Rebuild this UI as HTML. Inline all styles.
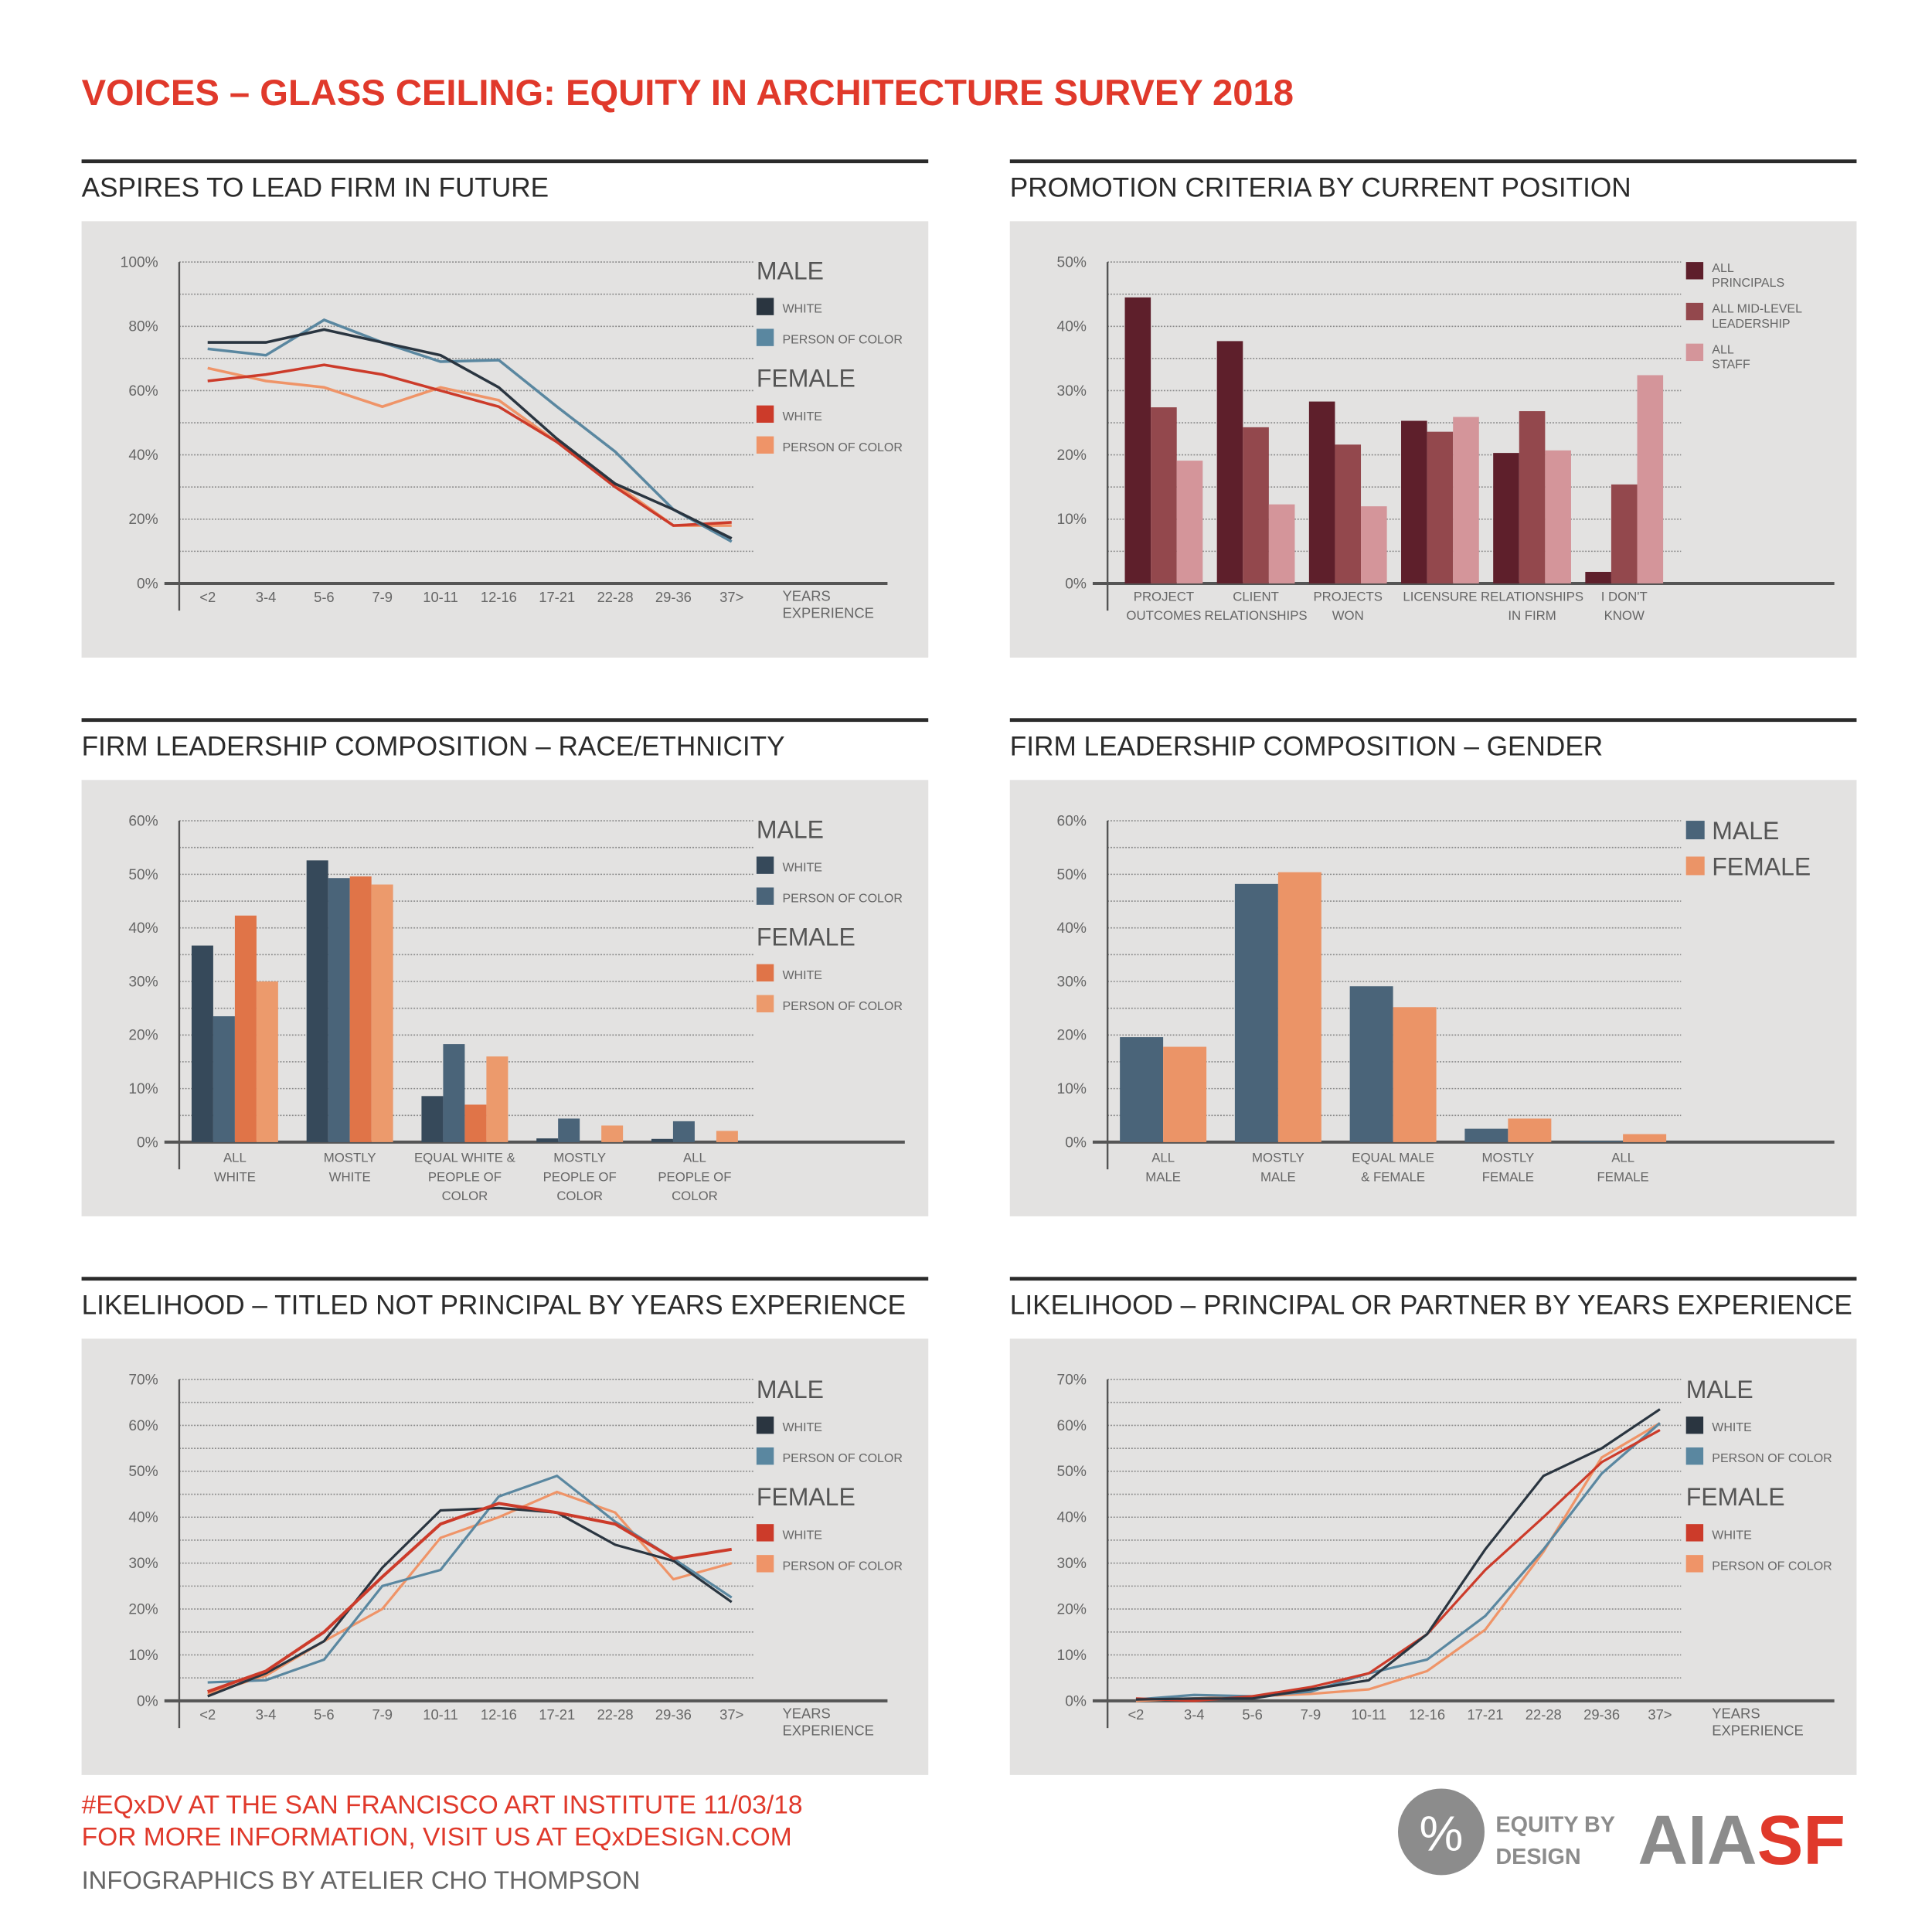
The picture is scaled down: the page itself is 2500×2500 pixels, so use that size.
<!DOCTYPE html>
<html><head><meta charset="utf-8">
<style>
html,body{margin:0;padding:0;background:#fff;width:2500px;height:2500px;overflow:hidden}
svg{display:block}
text{font-family:"Liberation Sans",sans-serif}
</style></head>
<body>
<svg id="root" width="2500" height="2500" viewBox="0 0 1563 1563" xmlns="http://www.w3.org/2000/svg">
<text x="66" y="85" font-size="29.5" font-weight="bold" fill="#e0392b">VOICES – GLASS CEILING: EQUITY IN ARCHITECTURE SURVEY 2018</text>
<g id="charts"></g>
<g>
<text x="66" y="1467" font-size="21" fill="#e0392b">#EQxDV AT THE SAN FRANCISCO ART INSTITUTE 11/03/18</text>
<text x="66" y="1493" font-size="21" fill="#e0392b">FOR MORE INFORMATION, VISIT US AT EQxDESIGN.COM</text>
<text x="66" y="1528" font-size="20.5" fill="#666">INFOGRAPHICS BY ATELIER CHO THOMPSON</text>
<circle cx="1166" cy="1482" r="35" fill="#8c8c8c"/>
<text x="1166" y="1497" font-size="40" fill="#fff" text-anchor="middle">%</text>
<text x="1210" y="1482" font-size="18" font-weight="bold" fill="#8c8c8c">EQUITY BY</text>
<text x="1210" y="1508" font-size="18" font-weight="bold" fill="#8c8c8c">DESIGN</text>
<text x="1325" y="1508" font-size="56" font-weight="bold"><tspan fill="#8c8c8c">AIA</tspan><tspan fill="#e0392b">SF</tspan></text>
</g>
</svg>
<script>
// ---------- DATA ----------
const yearCats = ['<2','3-4','5-6','7-9','10-11','12-16','17-21','22-28','29-36','37>'];
const aspireMaleWhite = [75,75,79,75,71,61,45,31,23,14];
const aspireMalePoc = [73,71,82,75,69,69.5,55,41,23,13];
const aspireFemaleWhite = [63,65,68,65,60,55,44,30,18,19];
const aspireFemalePoc = [67,63,61,55,61,57,44,31,18,18];
const aspireTicks = ['0%','20%','40%','60%','80%','100%'];

const promoCats = [['PROJECT','OUTCOMES'],['CLIENT','RELATIONSHIPS'],['PROJECTS','WON'],['LICENSURE'],['RELATIONSHIPS','IN FIRM'],['I DON\'T','KNOW']];
const promoPrincipals = [44.5,37.7,28.3,25.3,20.3,1.8];
const promoMidLevel = [27.4,24.3,21.6,23.6,26.8,15.4];
const promoStaff = [19.1,12.3,12.0,25.9,20.7,32.4];
const promoTicks = ['0%','10%','20%','30%','40%','50%'];

const raceCats = [['ALL','WHITE'],['MOSTLY','WHITE'],['EQUAL WHITE &','PEOPLE OF','COLOR'],['MOSTLY','PEOPLE OF','COLOR'],['ALL','PEOPLE OF','COLOR']];
const raceMaleWhite = [36.7,52.6,8.6,0.7,0.6];
const raceMalePoc = [23.5,49.3,18.3,4.4,3.9];
const raceFemaleWhite = [42.3,49.6,7.0,0,0];
const raceFemalePoc = [30.0,48.1,16.0,3.1,2.1];
const sixtyTicks = ['0%','10%','20%','30%','40%','50%','60%'];

const genderCats = [['ALL','MALE'],['MOSTLY','MALE'],['EQUAL MALE','& FEMALE'],['MOSTLY','FEMALE'],['ALL','FEMALE']];
const genderMale = [19.6,48.2,29.1,2.5,0.2];
const genderFemale = [17.8,50.4,25.2,4.4,1.5];

const titledMaleWhite = [1,6,13,29,41.5,42,41,34,30.5,21.5];
const titledMalePoc = [4,4.5,9,25,28.5,44.5,49,39,31,22.5];
const titledFemaleWhite = [2,6.5,15,27,38.5,43,41,38.5,31,33];
const titledFemalePoc = [1.5,5.5,13,20,35.5,40,45.5,41,26.5,30];
const principalMaleWhite = [0.3,0.5,0.5,2.5,4.5,14.5,33,49,55,63.5];
const principalMalePoc = [0.3,1.3,1,2,6,9,18.5,33,49.5,60.5];
const principalFemaleWhite = [0.5,0,1,3,6,14.5,28.5,40,52,59];
const principalFemalePoc = [0,0.5,1,1.5,2.5,6.5,15.5,32.5,53,60.5];
const seventyTicks = ['0%','10%','20%','30%','40%','50%','60%','70%'];

// ---------- HELPERS ----------
const NS='http://www.w3.org/2000/svg';
const root=document.getElementById('charts');
function mk(tag,attrs,parent){const e=document.createElementNS(NS,tag);for(const k in attrs)e.setAttribute(k,attrs[k]);(parent||root).appendChild(e);return e;}
function txt(x,y,s,size,fill,parent,anchor){const t=mk('text',{x:x,y:y,'font-size':size,fill:fill,'text-anchor':anchor||'start'},parent);t.textContent=s;return t;}

function panel(px,py,title,name){
  const g=mk('g',{});
  
  
  const r=mk('rect',{x:px,y:py-50,width:685,height:3,fill:'#2b2b2b'},g);
  
  
  const t=txt(px,py-20,title,22,'#2b2b2b',g);
  
  
  const b=mk('rect',{x:px,y:py,width:685,height:353,fill:'#e3e2e1'},g);
  
  
  return g;
}
function axes(g,ax,y0,ytop,ticks,maxV,gridEnd,axEnd){
  const yf=v=>y0-(v/maxV)*(y0-ytop);
  const step=maxV/(ticks.length-1);
  for(let i=0;i<(ticks.length-1)*2;i++){
    const v=step/2*(i+1);
    const l=mk('line',{x1:ax,x2:gridEnd,y1:yf(v),y2:yf(v),stroke:'#8a8a8a','stroke-width':1,'stroke-dasharray':'1.2 1.2'},g);
    
    
  }
  ticks.forEach((s,i)=>{
    const t=txt(ax-17,yf(step*i)+4,s,12,'#666',g,'end');
    
    
  });
  const ya=mk('line',{x1:ax,x2:ax,y1:ytop,y2:y0+22,stroke:'#555','stroke-width':1.5},g);
  
  
  const xa=mk('line',{x1:ax-12,x2:axEnd,y1:y0,y2:y0,stroke:'#555','stroke-width':2.5},g);
  
  
  return yf;
}
function legendMF(g,lx,ly,cols){
  const head=(s,y)=>{const t=txt(lx,y,s,20,'#555',g);};
  const item=(s,y,c)=>{
    const r=mk('rect',{x:lx,y:y-12,width:14,height:14,fill:c},g);
    
    
    const t=txt(lx+21,y,s,10,'#666',g);
    
    
  };
  head('MALE',ly); item('WHITE',ly+27,cols[0]); item('PERSON OF COLOR',ly+52,cols[1]);
  head('FEMALE',ly+87); item('WHITE',ly+114,cols[2]); item('PERSON OF COLOR',ly+139,cols[3]);
}
function xCatLabels(g,xs,y,cats){
  cats.forEach((c,i)=>{
    const t=txt(xs[i],y,c,11.5,'#666',g,'middle');
    
    
  });
}
function yearsLabel(g,x,y){
  const a=txt(x,y,'YEARS',11.5,'#666',g);
  const b=txt(x,y+14,'EXPERIENCE',11.5,'#666',g);
}
function lineSeries(g,xf,yf,vals,color,w,name){
  const d=vals.map((v,i)=>(i?'L':'M')+xf(i).toFixed(1)+' '+yf(v).toFixed(1)).join(' ');
  const p=mk('path',{d:d,fill:'none',stroke:color,'stroke-width':w,'stroke-linejoin':'miter'},g);
  
  
}
function multiLabel(g,x,y,lines){
  lines.forEach((s,j)=>{
    const t=txt(x,y+j*15.5,s,10.5,'#666',g,'middle');
    
    
  });
}
const LC=['#2a3540','#5a87a0','#cc3b2a','#ef9468'];

// ---------- CHART 1 ----------
(function(){
  const g=panel(66,179,'ASPIRES TO LEAD FIRM IN FUTURE','aspire-chart');
  const yf=axes(g,145,472,212,aspireTicks,100,610,718);
  const xf=i=>168+i*47.1;
  xCatLabels(g,yearCats.map((_,i)=>xf(i)),487,yearCats);
  yearsLabel(g,633,486);
  lineSeries(g,xf,yf,aspireFemalePoc,LC[3],2.2,'line-female-poc');
  lineSeries(g,xf,yf,aspireFemaleWhite,LC[2],2.2,'line-female-white');
  lineSeries(g,xf,yf,aspireMalePoc,LC[1],2.2,'line-male-poc');
  lineSeries(g,xf,yf,aspireMaleWhite,LC[0],2.2,'line-male-white');
  legendMF(g,612,226,LC);
})();

// ---------- CHART 2 ----------
(function(){
  const g=panel(817,179,'PROMOTION CRITERIA BY CURRENT POSITION','promotion-chart');
  const yf=axes(g,896,472,212,promoTicks,50,1360,1484);
  const cols=['#5e1f2b','#93484d','#d4959a'];
  const series=[promoPrincipals,promoMidLevel,promoStaff];
  const names=['bar-principals','bar-mid-level','bar-staff'];
  const bw=21;
  promoCats.forEach((c,i)=>{
    const gx=910+i*74.5;
    series.forEach((s,k)=>{
      const r=mk('rect',{x:gx+k*bw,y:yf(s[i]),width:bw,height:472-yf(s[i]),fill:cols[k]},g);
      
      
    });
    multiLabel(g,gx+bw*1.5,486,c);
  });
  const leg=[['ALL','PRINCIPALS'],['ALL MID-LEVEL','LEADERSHIP'],['ALL','STAFF']];
  leg.forEach((l,k)=>{
    const y=212+k*33;
    const r=mk('rect',{x:1364,y:y,width:14,height:14,fill:cols[k]},g);
    
    
    l.forEach((s,j)=>{const t=txt(1385,y+8+j*12,s,10,'#666',g);});
  });
})();

// ---------- CHART 3 ----------
(function(){
  const g=panel(66,631,'FIRM LEADERSHIP COMPOSITION – RACE/ETHNICITY','race-chart');
  const yf=axes(g,145,924,664,sixtyTicks,60,610,732);
  const cols=['#36495a','#4a6479','#e07448','#ec9a6c'];
  const series=[raceMaleWhite,raceMalePoc,raceFemaleWhite,raceFemalePoc];
  const names=['bar-male-white','bar-male-poc','bar-female-white','bar-female-poc'];
  const bw=17.5;
  raceCats.forEach((c,i)=>{
    const gx=155+i*93;
    series.forEach((s,k)=>{
      if(s[i]<=0)return;
      const r=mk('rect',{x:gx+k*bw,y:yf(s[i]),width:bw,height:924-yf(s[i]),fill:cols[k]},g);
      
      
    });
    multiLabel(g,gx+bw*2,940,c);
  });
  legendMF(g,612,678,cols);
})();

// ---------- CHART 4 ----------
(function(){
  const g=panel(817,631,'FIRM LEADERSHIP COMPOSITION – GENDER','gender-chart');
  const yf=axes(g,896,924,664,sixtyTicks,60,1360,1484);
  const cols=['#4a6479','#eb9467'];
  const series=[genderMale,genderFemale];
  const names=['bar-male','bar-female'];
  const bw=35;
  genderCats.forEach((c,i)=>{
    const gx=906+i*93;
    series.forEach((s,k)=>{
      const r=mk('rect',{x:gx+k*bw,y:yf(s[i]),width:bw,height:Math.max(924-yf(s[i]),0),fill:cols[k]},g);
      
      
    });
    multiLabel(g,gx+bw,940,c);
  });
  ['MALE','FEMALE'].forEach((s,k)=>{
    const y=664+k*29;
    const r=mk('rect',{x:1364,y:y,width:15,height:15,fill:cols[k]},g);
    
    
    const t=txt(1385,y+15,s,20,'#555',g);
    
    
  });
})();

// ---------- CHART 5 ----------
(function(){
  const g=panel(66,1083,'LIKELIHOOD – TITLED NOT PRINCIPAL BY YEARS EXPERIENCE','titled-chart');
  const yf=axes(g,145,1376,1116,seventyTicks,70,610,718);
  const xf=i=>168+i*47.1;
  xCatLabels(g,yearCats.map((_,i)=>xf(i)),1391,yearCats);
  yearsLabel(g,633,1390);
  lineSeries(g,xf,yf,titledFemalePoc,LC[3],2,'line-female-poc');
  lineSeries(g,xf,yf,titledMalePoc,LC[1],2,'line-male-poc');
  lineSeries(g,xf,yf,titledMaleWhite,LC[0],2,'line-male-white');
  lineSeries(g,xf,yf,titledFemaleWhite,LC[2],2.5,'line-female-white');
  legendMF(g,612,1131,LC);
})();

// ---------- CHART 6 ----------
(function(){
  const g=panel(817,1083,'LIKELIHOOD – PRINCIPAL OR PARTNER BY YEARS EXPERIENCE','principal-chart');
  const yf=axes(g,896,1376,1116,seventyTicks,70,1360,1484);
  const xf=i=>919+i*47.1;
  xCatLabels(g,yearCats.map((_,i)=>xf(i)),1391,yearCats);
  yearsLabel(g,1385,1390);
  lineSeries(g,xf,yf,principalFemalePoc,LC[3],2,'line-female-poc');
  lineSeries(g,xf,yf,principalMalePoc,LC[1],2,'line-male-poc');
  lineSeries(g,xf,yf,principalFemaleWhite,LC[2],2,'line-female-white');
  lineSeries(g,xf,yf,principalMaleWhite,LC[0],2,'line-male-white');
  legendMF(g,1364,1131,LC);
})();
</script>
</body></html>
